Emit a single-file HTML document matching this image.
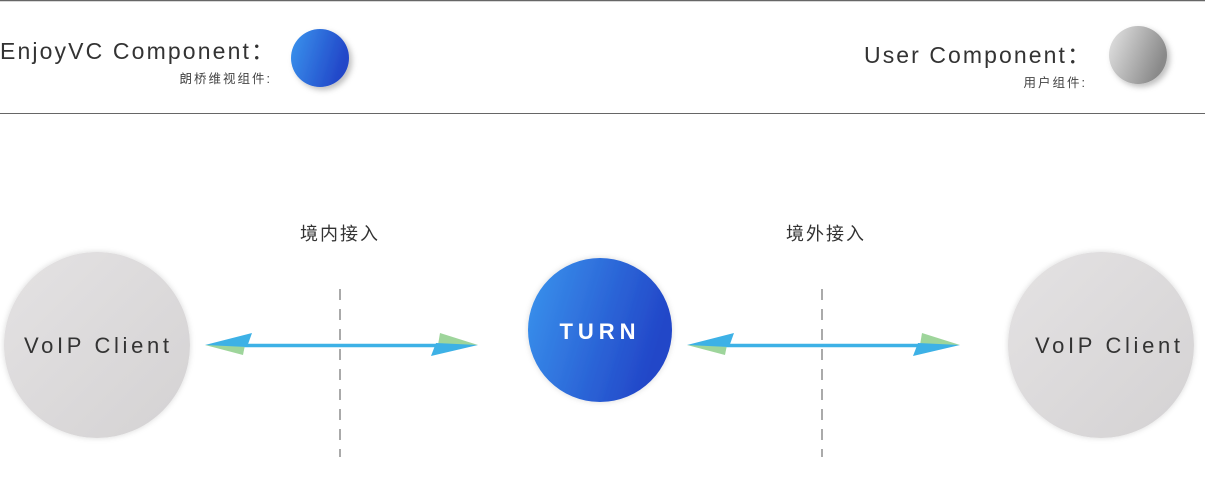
<!DOCTYPE html>
<html><head><meta charset="utf-8"><style>
html,body{margin:0;padding:0;background:#fff;width:1205px;height:499px;overflow:hidden}
text{font-family:"Liberation Sans","Noto Sans CJK SC",sans-serif}
</style></head><body>
<svg width="1205" height="499" viewBox="0 0 1205 499" xmlns="http://www.w3.org/2000/svg">
<defs>
<linearGradient id="b" x1="0" y1="0" x2="1" y2="0.3"><stop offset="0" stop-color="#3a95ee"/><stop offset="1" stop-color="#2246c8"/></linearGradient>
<linearGradient id="g" x1="0" y1="0" x2="1" y2="0.4"><stop offset="0" stop-color="#e6e6e6"/><stop offset="1" stop-color="#8a8a8a"/></linearGradient>
<linearGradient id="v" x1="0" y1="0" x2="1" y2="1"><stop offset="0" stop-color="#e4e2e3"/><stop offset="1" stop-color="#d4d2d3"/></linearGradient>
<filter id="s" x="-30%" y="-30%" width="160%" height="160%"><feDropShadow dx="3" dy="3" stdDeviation="3" flood-color="#000" flood-opacity="0.25"/></filter>
<filter id="s2" x="-30%" y="-30%" width="160%" height="160%"><feDropShadow dx="0" dy="0" stdDeviation="3" flood-color="#000" flood-opacity="0.15"/></filter>
</defs>
<line x1="0" y1="0.5" x2="1205" y2="0.5" stroke="#666" stroke-width="1.5"/>
<line x1="0" y1="113.5" x2="1205" y2="113.5" stroke="#666" stroke-width="1"/>
<text x="0" y="59" font-size="23" fill="#333" textLength="274" lengthAdjust="spacing">EnjoyVC Component：</text>
<text x="272" y="83" font-size="12.5" fill="#444" text-anchor="end" letter-spacing="2">朗桥维视组件:</text>
<circle cx="320" cy="58" r="29" fill="url(#b)" filter="url(#s)"/>
<text x="864" y="63" font-size="23" fill="#333" textLength="226" lengthAdjust="spacing">User Component：</text>
<text x="1087" y="87" font-size="12.5" fill="#444" text-anchor="end" letter-spacing="2">用户组件:</text>
<circle cx="1138" cy="55" r="29" fill="url(#g)" filter="url(#s)"/>

<text x="340" y="240" font-size="18" fill="#333" text-anchor="middle" letter-spacing="2">境内接入</text>
<text x="826" y="240" font-size="18" fill="#333" text-anchor="middle" letter-spacing="2">境外接入</text>

<line x1="340" y1="289" x2="340" y2="457" stroke="#555" stroke-width="1" stroke-dasharray="11,9"/>
<line x1="822" y1="289" x2="822" y2="457" stroke="#555" stroke-width="1" stroke-dasharray="11,9"/>

<circle cx="97" cy="345" r="93" fill="url(#v)" filter="url(#s2)"/>
<text x="24" y="353" font-size="22" fill="#333" textLength="145" lengthAdjust="spacing">VoIP Client</text>
<circle cx="1101" cy="345" r="93" fill="url(#v)" filter="url(#s2)"/>
<text x="1035" y="353" font-size="22" fill="#333" textLength="145" lengthAdjust="spacing">VoIP Client</text>

<circle cx="600" cy="330" r="72" fill="url(#b)" filter="url(#s2)"/>
<text x="600" y="339" font-size="22" fill="#fff" font-weight="bold" text-anchor="middle" letter-spacing="5">TURN</text>

<g id="arr">
<line x1="240" y1="345.5" x2="445" y2="345.5" stroke="#3db1e6" stroke-width="3.5"/>
<polygon points="205,345 245,345 243,355" fill="#9ed59b"/>
<polygon points="205,345 252,333 247,347" fill="#3db1e6"/>
<polygon points="478,345 438,345 440,333" fill="#9ed59b"/>
<polygon points="478,345 431,356 436,343" fill="#3db1e6"/>
</g>
<use href="#arr" transform="translate(482,0)"/>
</svg>
</body></html>
